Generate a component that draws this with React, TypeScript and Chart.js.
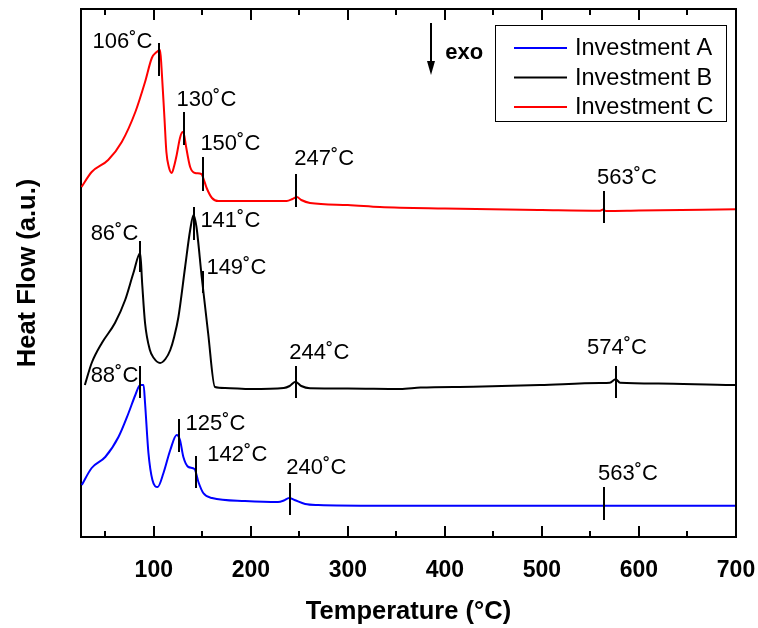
import React, { useEffect, useRef } from "react";
import { Chart, registerables } from "chart.js";
Chart.register(...registerables);

const FONT = '"Liberation Sans", Arial, Helvetica, sans-serif';

// Investment A (blue)
const tempA = [25.8, 36, 50, 63.6, 74, 81, 86, 89.5, 91, 94.5, 98.6, 104, 110, 117, 123.6, 127, 130.5, 135.7, 142, 146, 151, 160, 194, 228, 234, 239.5, 245, 256, 269.5, 333, 400, 500, 600, 700];
const flowA = [52, 69, 80, 100, 124, 142, 152, 152, 134, 84, 57, 50, 64, 87, 102, 97, 80, 70, 68, 55, 44, 39, 36, 35, 36.5, 39, 37, 33, 32, 31.3, 31.3, 31.3, 31.3, 31.3];

// Investment B (black)
const tempB = [29, 36, 46.5, 60, 70.5, 79, 86, 88, 91, 96, 100, 106.5, 112, 117, 121, 125.4, 132.3, 137.5, 141, 144, 149.4, 156, 163, 173.5, 200, 234, 240, 246, 252, 261, 300, 354, 375, 429, 498, 560, 570, 576, 580.5, 620, 697, 700];
const flowB = [152, 174, 194, 214, 237, 264, 284, 254, 214, 187, 179, 174, 178, 187, 200, 220, 270, 307, 322, 310, 260, 204, 150, 149, 148, 149, 151, 155.3, 151, 148.7, 148.5, 148, 149.5, 150.3, 152, 154, 154.3, 157.7, 154.3, 153.5, 152, 152];

// Investment C (red)
const tempC = [25.5, 36, 53, 67, 81, 91, 98, 103, 106.5, 108, 111, 113, 115.5, 118.5, 121, 123.6, 127, 129.5, 131.5, 133, 137.5, 142.5, 149, 151, 154.5, 160, 166.5, 200, 237, 243, 247.5, 252, 261, 300, 333, 400, 500, 560, 563, 566, 600, 700];
const flowC = [350, 365, 377, 395, 425, 455, 479, 485, 487, 469, 419, 385, 370, 364, 371, 382, 399, 405, 401, 392, 370, 364, 363, 359, 349, 339, 336, 336, 336, 338, 340, 337, 334, 332, 330, 328.5, 327, 326.3, 327.5, 326, 326.5, 327.7];

const seriesNames = ["Investment A", "Investment B", "Investment C"];
const seriesColors = ["#0000ff", "#000000", "#ff0000"];

const xTickValues = [100, 200, 300, 400, 500, 600, 700];

// Peak markers: label, temperature of marker, marker span (a.u.)
const markerLabels = ["106˚C", "130˚C", "150˚C", "247˚C", "563˚C", "86˚C", "141˚C", "149˚C", "244˚C", "574˚C", "88˚C", "125˚C", "142˚C", "240˚C", "563˚C"];
const markerTemps = [105, 130.8, 150.8, 247, 564, 86.3, 141.8, 151, 247, 576.4, 86.3, 125.7, 143, 240, 564];
const markerHigh = [494, 425, 380, 363, 346, 296, 330, 266, 171, 171, 171, 118, 81, 54, 50];
const markerLow = [461, 392, 346, 330, 314, 265, 297, 244, 139, 139, 139, 85, 49, 22, 17];
// label anchor (temperature, a.u.)
const labelTemps = [67.7, 154.2, 178.9, 275.7, 587.7, 59.5, 178.9, 185.1, 270.6, 577.4, 59.5, 163.5, 186.1, 267.5, 588.7];
const labelFlows = [495, 437, 393, 378, 359, 303, 316, 269, 184, 189, 161, 113, 82, 69, 63];

const makeData = (t: number[], f: number[]) => t.map((x, i) => ({ x, y: f[i] }));

const decorPlugin = {
  id: "decor",
  afterDatasetsDraw(chart: any) {
    const { ctx, chartArea, scales } = chart;
    const { left, right, top, bottom } = chartArea;
    const x = scales.x;
    const y = scales.y;
    ctx.save();
    ctx.strokeStyle = "#000";
    ctx.lineWidth = 2;
    // frame top & right
    ctx.beginPath();
    ctx.moveTo(left - 1, top);
    ctx.lineTo(right, top);
    ctx.lineTo(right, bottom + 1);
    ctx.stroke();
    // inward ticks top/bottom
    for (let v = 50; v <= 700; v += 50) {
      const px = Math.round(x.getPixelForValue(v));
      const major = v % 100 === 0;
      const len = major ? 11 : 6;
      ctx.beginPath();
      ctx.moveTo(px, bottom);
      ctx.lineTo(px, bottom - len);
      ctx.moveTo(px, top);
      ctx.lineTo(px, top + len);
      ctx.stroke();
    }
    // peak markers
    ctx.font = `22px ${FONT}`;
    ctx.fillStyle = "#000";
    ctx.textAlign = "center";
    ctx.textBaseline = "middle";
    for (let i = 0; i < markerLabels.length; i++) {
      const px = Math.round(x.getPixelForValue(markerTemps[i]));
      ctx.beginPath();
      ctx.moveTo(px, y.getPixelForValue(markerHigh[i]));
      ctx.lineTo(px, y.getPixelForValue(markerLow[i]));
      ctx.stroke();
      ctx.fillText(markerLabels[i], x.getPixelForValue(labelTemps[i]), y.getPixelForValue(labelFlows[i]));
    }
    // exo arrow
    const ax = Math.round(x.getPixelForValue(386));
    const ay1 = y.getPixelForValue(514);
    const ay2 = y.getPixelForValue(462);
    ctx.beginPath();
    ctx.moveTo(ax, ay1);
    ctx.lineTo(ax, ay2 - 12);
    ctx.stroke();
    ctx.beginPath();
    ctx.moveTo(ax - 4, ay2 - 14);
    ctx.lineTo(ax + 4, ay2 - 14);
    ctx.lineTo(ax, ay2);
    ctx.closePath();
    ctx.fill();
    ctx.font = `bold 22px ${FONT}`;
    ctx.textAlign = "left";
    ctx.fillText("exo", x.getPixelForValue(400.3), y.getPixelForValue(484));
    // legend
    const bw = 231, bh = 96;
    const bx = right - 10 - bw;
    const by = top + 16;
    ctx.lineWidth = 1;
    ctx.strokeRect(bx + 0.5, by + 0.5, bw, bh);
    ctx.font = `23.5px ${FONT}`;
    chart.data.datasets.forEach((ds: any, i: number) => {
      const cy = by + 23 + i * 29.5;
      ctx.strokeStyle = ds.borderColor;
      ctx.lineWidth = 2;
      ctx.beginPath();
      ctx.moveTo(bx + 19, cy);
      ctx.lineTo(bx + 72, cy);
      ctx.stroke();
      ctx.fillStyle = "#000";
      ctx.fillText(ds.label, bx + 80, cy + 1);
    });
    ctx.restore();
  },
};

export default function App() {
  const ref = useRef<HTMLCanvasElement | null>(null);
  useEffect(() => {
    if (!ref.current) return;
    const datasets = [
      makeData(tempA, flowA),
      makeData(tempB, flowB),
      makeData(tempC, flowC),
    ].map((data, i) => ({
      label: seriesNames[i],
      data,
      borderColor: seriesColors[i],
      backgroundColor: seriesColors[i],
      borderWidth: 2,
      pointRadius: 0,
      fill: false,
      cubicInterpolationMode: "monotone" as const,
    }));
    const chart = new Chart(ref.current, {
      type: "line",
      data: { datasets },
      options: {
        animation: false,
        responsive: false,
        devicePixelRatio: 1,
        layout: { padding: { top: 9, right: 22, left: 0, bottom: 0 } },
        plugins: { legend: { display: false }, tooltip: { enabled: false } },
        scales: {
          x: {
            type: "linear",
            min: 25,
            max: 700,
            afterBuildTicks: (s: any) => {
              s.ticks = xTickValues.map((v) => ({ value: v }));
            },
            afterFit: (s: any) => {
              s.height = 91;
              s.paddingRight = 0;
              s.paddingLeft = 0;
            },
            grid: { display: false, drawTicks: false },
            border: { display: true, color: "#000", width: 2 },
            ticks: {
              color: "#000",
              font: { family: FONT, size: 23, weight: "bold" },
              padding: 20,
              maxRotation: 0,
            },
            title: {
              display: true,
              text: "Temperature (°C)",
              color: "#000",
              font: { family: FONT, size: 25.5, weight: "bold" },
              padding: { top: 0, bottom: 1 },
            },
          },
          y: {
            type: "linear",
            min: 0,
            max: 528,
            afterFit: (s: any) => {
              s.width = 81;
              s.paddingTop = 0;
              s.paddingBottom = 0;
            },
            grid: { display: false, drawTicks: false },
            border: { display: true, color: "#000", width: 2 },
            ticks: { display: false },
            title: {
              display: true,
              text: "Heat Flow (a.u.)",
              color: "#000",
              font: { family: FONT, size: 25.5, weight: "bold" },
              padding: { top: 13, bottom: 0 },
            },
          },
        },
      },
      plugins: [decorPlugin],
    });
    return () => chart.destroy();
  }, []);
  return (
    <div style={{ position: "fixed", left: 0, top: 0, width: 758, height: 628, background: "#fff" }}>
      <canvas ref={ref} width={758} height={628} />
    </div>
  );
}
